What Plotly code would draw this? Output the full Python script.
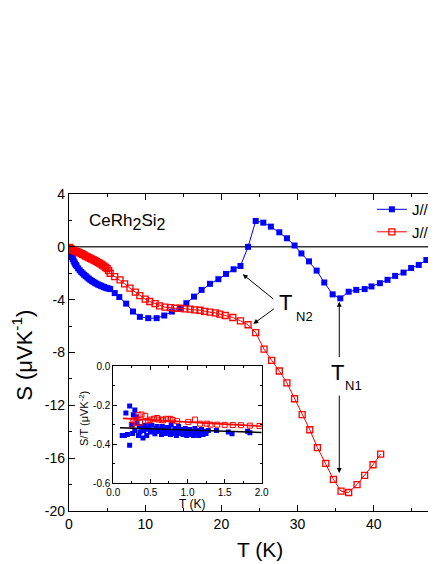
import plotly.graph_objects as go

FONT = "Liberation Sans, Arial, sans-serif"

# main panel: S vs T, current along a
t_a = [0.05, 0.1, 0.2, 0.3, 0.4, 0.5, 0.6, 0.7, 0.8, 0.9, 1.0, 1.2, 1.4, 1.6, 1.8, 2.0,
       2.2, 2.4, 2.6, 2.8, 3.0, 3.2, 3.4, 3.6, 3.8, 4.0, 4.2, 4.4, 4.6, 4.8, 5.0, 5.2, 5.4,
       6.0, 6.6, 7.5, 8.4, 9.3, 10.4, 11.5, 12.5, 13.5, 14.6, 15.4, 16.4, 17.4, 18.5, 19.6,
       20.6, 21.6, 22.5, 23.5, 24.5, 25.5, 26.5, 27.6, 28.6, 29.6, 30.5, 31.5, 32.5, 33.5,
       34.6, 35.6, 36.7, 37.7, 38.8, 39.7, 40.8, 41.8, 42.8, 43.9, 44.9, 45.9, 46.9, 47.9]
s_a = [-0.1, -0.25, -0.45, -0.62, -0.78, -0.92, -1.05, -1.17, -1.28, -1.38, -1.47, -1.63,
       -1.77, -1.9, -2.01, -2.12, -2.22, -2.32, -2.41, -2.5, -2.58, -2.65, -2.72, -2.79,
       -2.85, -2.9, -2.95, -3.0, -3.05, -3.1, -3.13, -3.16, -3.2,
       -3.5, -3.8, -4.3, -4.9, -5.3, -5.4, -5.4, -5.2, -4.9, -4.65, -4.27, -3.77, -3.26,
       -2.8, -2.45, -2.05, -1.7, -1.45, 0.0, 1.96, 1.83, 1.53, 1.1, 0.65, 0.1, -0.5, -1.1,
       -1.8, -2.7, -3.6, -3.9, -3.4, -3.26, -3.2, -3.0, -2.75, -2.5, -2.2, -1.95, -1.6,
       -1.37, -1.0, -0.6]

# main panel: current along c
t_c = [0.05, 0.1, 0.2, 0.3, 0.4, 0.5, 0.6, 0.8, 1.0, 1.2, 1.4, 1.6, 1.8, 2.0, 2.2, 2.4,
       2.6, 2.8, 3.0, 3.2, 3.4, 3.6, 3.8, 4.0, 4.2, 4.4, 4.6, 4.8, 5.0, 5.2, 5.4,
       6.0, 6.7, 7.3, 8.0, 8.7, 9.3, 10.0, 10.6, 11.3, 11.9, 12.6, 13.3, 13.9, 14.6, 15.2,
       15.9, 16.5, 17.2, 17.8, 18.5, 19.2, 19.8, 20.5, 21.5, 22.5, 23.5, 24.5, 25.6, 26.6,
       27.6, 28.6, 29.6, 30.6, 31.6, 32.6, 33.7, 34.7, 35.7, 36.7, 37.8, 38.8, 39.9, 40.9]
s_c = [-0.05, -0.08, -0.13, -0.17, -0.21, -0.24, -0.27, -0.32, -0.36, -0.41, -0.46, -0.51,
       -0.56, -0.63, -0.7, -0.76, -0.82, -0.88, -0.93, -0.98, -1.04, -1.1, -1.17, -1.24,
       -1.31, -1.38, -1.46, -1.55, -1.65, -1.8, -2.0,
       -2.25, -2.5, -2.8, -3.13, -3.43, -3.7, -3.96, -4.14, -4.3, -4.47, -4.57, -4.6, -4.65,
       -4.65, -4.7, -4.72, -4.77, -4.8, -4.88, -4.95, -5.0, -5.1, -5.2, -5.35, -5.6, -5.9,
       -6.5, -7.75, -8.6, -9.4, -10.3, -11.5, -12.7, -13.85, -15.2, -16.4, -17.6, -18.5,
       -18.6, -18.0, -17.3, -16.5, -15.7]

# inset: S/T at low temperature
ins_t_a = [0.12, 0.15, 0.17, 0.19, 0.22, 0.22, 0.25, 0.26, 0.27, 0.29, 0.29, 0.31, 0.32,
           0.34, 0.35, 0.36, 0.38, 0.40, 0.41, 0.42, 0.44, 0.45, 0.47, 0.49, 0.50, 0.52,
           0.54, 0.56, 0.58, 0.59, 0.61, 0.63, 0.65, 0.66, 0.68, 0.70, 0.72, 0.73, 0.75,
           0.77, 0.78, 0.80, 0.82, 0.83, 0.85, 0.87, 0.88, 0.90, 0.92, 0.94, 0.95, 0.97,
           0.99, 1.01, 1.03, 1.04, 1.06, 1.08, 1.10, 1.11, 1.13, 1.15, 1.17, 1.19, 1.21,
           1.23, 1.25, 1.28, 1.39, 1.55, 1.60, 1.81, 1.84]
ins_s_a = [-0.355, -0.355, -0.24, -0.35, -0.405, -0.205, -0.30, -0.345, -0.25, -0.225,
           -0.33, -0.26, -0.29, -0.355, -0.31, -0.338, -0.312, -0.368, -0.33, -0.303, -0.32,
           -0.355, -0.324, -0.30, -0.338, -0.303, -0.33, -0.346, -0.32, -0.31, -0.335,
           -0.322, -0.35, -0.31, -0.33, -0.345, -0.315, -0.34, -0.325, -0.35, -0.30, -0.335,
           -0.345, -0.32, -0.355, -0.33, -0.31, -0.345, -0.325, -0.35, -0.335, -0.32, -0.355,
           -0.34, -0.325, -0.35, -0.335, -0.355, -0.32, -0.345, -0.33, -0.355, -0.34, -0.325,
           -0.35, -0.335, -0.345, -0.33, -0.33, -0.338, -0.346, -0.334, -0.342]
ins_t_c = [0.25, 0.27, 0.30, 0.34, 0.36, 0.38, 0.43, 0.47, 0.50, 0.55, 0.59, 0.61, 0.65,
           0.67, 0.71, 0.74, 0.77, 0.80, 0.86, 1.01, 1.10, 1.17, 1.26, 1.31, 1.40, 1.50,
           1.61, 1.72, 1.84, 1.97]
ins_s_c = [-0.30, -0.278, -0.29, -0.25, -0.29, -0.248, -0.255, -0.28, -0.274, -0.27,
           -0.266, -0.274, -0.274, -0.278, -0.27, -0.272, -0.27, -0.276, -0.282, -0.286,
           -0.274, -0.295, -0.295, -0.30, -0.30, -0.301, -0.302, -0.303, -0.305, -0.307]
# linear fits in the inset
fit_t_a = [0.09, 2.0]
fit_s_a = [-0.316, -0.34]
fit_t_c = [0.13, 2.0]
fit_s_c = [-0.268, -0.308]

x_ticks = [0, 10, 20, 30, 40]
y_ticks = [4, 0, -4, -8, -12, -16, -20]
ins_x_ticks = [0.0, 0.5, 1.0, 1.5, 2.0]
ins_y_ticks = [0.0, -0.2, -0.4, -0.6]

BLUE = "#0000ff"
RED = "#ff0000"

fig = go.Figure()

fig.add_trace(go.Scatter(x=t_a, y=s_a, mode="lines+markers", name="J//a",
                         line=dict(color=BLUE, width=1),
                         marker=dict(symbol="square", size=6, color=BLUE)))
fig.add_trace(go.Scatter(x=t_c, y=s_c, mode="lines+markers", name="J//c",
                         line=dict(color=RED, width=1),
                         marker=dict(symbol="square-open", size=6, color=RED,
                                     line=dict(width=1.3, color=RED))))

# inset traces
fig.add_trace(go.Scatter(x=ins_t_a, y=ins_s_a, mode="markers", showlegend=False,
                         xaxis="x2", yaxis="y2",
                         marker=dict(symbol="square", size=5, color=BLUE)))
fig.add_trace(go.Scatter(x=ins_t_c, y=ins_s_c, mode="markers", showlegend=False,
                         xaxis="x2", yaxis="y2",
                         marker=dict(symbol="square-open", size=5, color=RED,
                                     line=dict(width=1, color=RED))))
fig.add_trace(go.Scatter(x=fit_t_c, y=fit_s_c, mode="lines", showlegend=False,
                         xaxis="x2", yaxis="y2", line=dict(color=RED, width=1.6)))
fig.add_trace(go.Scatter(x=fit_t_a, y=fit_s_a, mode="lines", showlegend=False,
                         xaxis="x2", yaxis="y2", line=dict(color="black", width=1.6)))

axis_common = dict(showline=True, linecolor="black", mirror="ticks", ticks="inside",
                   showgrid=False, zeroline=False, tickcolor="black")

# the page adds an 8px body margin; the original figure runs past the
# right edge of the window (x up to 50 K), so the figure is made wider
# than the window and the browser crops it
fig.update_layout(
    width=460, height=556,
    margin=dict(l=61, r=18, t=186, b=53),
    paper_bgcolor="white", plot_bgcolor="white",
    font=dict(family=FONT, color="black"),
    xaxis=dict(range=[0, 50], tickvals=x_ticks, ticktext=[str(v) for v in x_ticks],
               linewidth=1.3, ticklen=6, tickfont=dict(size=14),
               minor=dict(dtick=5, ticks="inside", ticklen=3, tickcolor="black"),
               **axis_common),
    yaxis=dict(range=[-20, 4], tickvals=y_ticks, ticktext=[str(v) for v in y_ticks],
               linewidth=1.3, ticklen=6, tickfont=dict(size=14),
               minor=dict(dtick=2, ticks="inside", ticklen=3, tickcolor="black"),
               **axis_common),
    xaxis2=dict(domain=[0.1163, 0.5058], anchor="y2", range=[0, 2],
                tickvals=ins_x_ticks, ticktext=["%.1f" % v for v in ins_x_ticks],
                linewidth=1, ticklen=4, tickfont=dict(size=10),
                minor=dict(dtick=0.25, ticks="inside", ticklen=2, tickcolor="black"),
                **axis_common),
    yaxis2=dict(domain=[0.0874, 0.4574], anchor="x2", range=[-0.6, 0],
                tickvals=ins_y_ticks,
                ticktext=["0.0" if v == 0 else "-%.1f" % -v for v in ins_y_ticks],
                linewidth=1, ticklen=4, tickfont=dict(size=10),
                minor=dict(dtick=0.1, ticks="inside", ticklen=2, tickcolor="black"),
                **axis_common),
    legend=dict(x=0.795, y=1.003, xanchor="left", yanchor="top",
                bgcolor="rgba(0,0,0,0)", font=dict(size=15, family=FONT)),
    showlegend=True,
)

# zero line
fig.add_shape(type="line", xref="x", yref="y", x0=0, x1=50, y0=0, y1=0,
              line=dict(color="#333333", width=1.5), layer="below")

SUB = '<sub><span style="font-size:16px">2</span></sub>'

ann = []
# axis titles
ann.append(dict(text="T (K)", xref="paper", yref="paper", x=0.5, y=-0.123,
                xanchor="center", yanchor="middle", showarrow=False, font=dict(size=21)))
ann.append(dict(text="S (\u03bcVK<sup>-1</sup>)", xref="paper", yref="paper", x=-0.123, y=0.49,
                xanchor="center", yanchor="middle", textangle=-90, showarrow=False,
                font=dict(size=22)))
ann.append(dict(text="S/T (\u03bcVK<sup>-2</sup>)", xref="paper", yref="paper", x=0.039,
                y=0.293, xanchor="center", yanchor="middle", textangle=-90,
                showarrow=False, font=dict(size=11)))
ann.append(dict(text="T (K)", xref="paper", yref="paper", x=0.323, y=0.022,
                xanchor="center", yanchor="middle", showarrow=False, font=dict(size=12)))
# sample label
ann.append(dict(text="CeRh" + SUB + "Si" + SUB, xref="x", yref="y", x=2.35, y=1.85,
                xanchor="left", yanchor="middle", showarrow=False, font=dict(size=17)))
# transition labels
ann.append(dict(text="T", xref="x", yref="y", x=28.35, y=-4.25, showarrow=False, font=dict(size=22)))
ann.append(dict(text="N2", xref="x", yref="y", x=30.84, y=-5.3, showarrow=False, font=dict(size=13)))
ann.append(dict(text="T", xref="x", yref="y", x=35.17, y=-9.54, showarrow=False, font=dict(size=22)))
ann.append(dict(text="N1", xref="x", yref="y", x=37.27, y=-10.5, showarrow=False, font=dict(size=13)))
# arrows
for hx, hy, dx, dy in [(22.8, -2.07, 32, 26), (24.19, -5.83, 22, -16),
                       (35.47, -4.15, 0, 57), (35.47, -17.13, 0, -79)]:
    ann.append(dict(text="", xref="x", yref="y", x=hx, y=hy, ax=dx, ay=dy,
                    showarrow=True, arrowhead=2, arrowsize=1, arrowwidth=1,
                    arrowcolor="black", standoff=0))
fig.update_layout(annotations=ann)

fig.write_html("out.html")
